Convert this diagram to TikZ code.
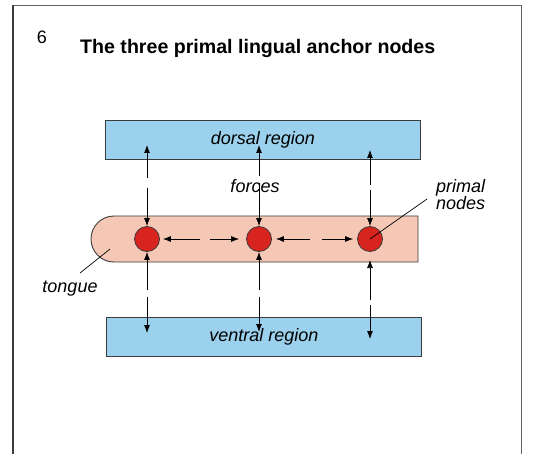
\documentclass[tikz,border=0pt]{standalone}
\usepackage{fontspec}
\setmainfont{Liberation Sans}
\usetikzlibrary{arrows.meta}
\definecolor{regionblue}{RGB}{155,209,236}
\definecolor{tonguefill}{RGB}{245,200,182}
\definecolor{nodered}{RGB}{216,36,30}
\definecolor{edgegray}{RGB}{60,60,60}
\begin{document}
\begin{tikzpicture}[x=1pt,y=-1pt,
  region/.style={draw=edgegray,line width=0.9pt,fill=regionblue,minimum width=315pt,minimum height=39pt,inner sep=0pt,font=\fontsize{18}{20}\selectfont\itshape},
  primal/.style={circle,draw=edgegray,line width=0.8pt,fill=nodered,minimum size=25pt,inner sep=0pt},
  lbl/.style={font=\fontsize{18}{17}\selectfont\itshape,inner sep=0pt},
  arr/.style={-{Latex[length=8pt,width=6pt]},line width=0.75pt,black},
  leader/.style={line width=0.7pt,black}]
\useasboundingbox (0,0) rectangle (540,454);
% frame
\draw[edgegray!80,line width=0.8pt] (521,454) -- (521,5) -- (13,5);
\draw[edgegray,line width=1.6pt] (13,4.6) -- (13,454);
% title
\node[font=\fontsize{18}{20}\selectfont,inner sep=0pt] (num) at (42,37) {6};
\node[font=\fontsize{19.6}{22}\selectfont\bfseries,anchor=west,inner sep=0pt] (title) at (80,48) {The three primal lingual anchor nodes};
% regions
\node[region] (dorsal) at (263,139.5) {dorsal region};
\node[region] (ventral) at (264,337) {ventral region};
% tongue
\draw[draw=edgegray,line width=0.9pt,fill=tonguefill] (418,216) -- (114,216) arc[start angle=270,end angle=90,radius=23] -- (418,262) -- cycle;
\coordinate (tonguept) at (110,249);
% primal nodes
\node[primal] (n1) at (147,239) {};
\node[primal] (n2) at (259,239) {};
\node[primal] (n3) at (370,239) {};
% labels
\node[lbl] (forces) at (255,186) {forces};
\node[lbl,anchor=west,align=left] (plabel) at (436,195) {primal\\nodes};
\node[lbl] (tongue) at (70,289) {tongue};
\coordinate (pl) at (427,199);
\coordinate (tl) at (80,273);
\draw[leader] (pl) -- (n3.center);
\draw[leader] (tl) -- (tonguept);
% vertical force arrows up
\coordinate (d1) at (147,145);
\coordinate (d2) at (259,145);
\coordinate (d3) at (370,150);
\coordinate (v1) at (147,333);
\coordinate (v2) at (259,332);
\coordinate (v3) at (370,339);
\coordinate (t3) at (370,260);
\coordinate (g1a) at (147,178); \coordinate (g1b) at (147,188);
\coordinate (g2a) at (259,176); \coordinate (g2b) at (259,183);
\coordinate (g3a) at (370,185); \coordinate (g3b) at (370,190);
\draw[arr] (g1a) -- (d1);
\draw[arr] (g1b) -- (n1.north);
\draw[arr] (g2a) -- (d2);
\draw[arr] (g2b) -- (n2.north);
\draw[arr] (g3a) -- (d3);
\draw[arr] (g3b) -- (n3.north);
% vertical force arrows down
\coordinate (h1a) at (147,290); \coordinate (h1b) at (147,297);
\coordinate (h2a) at (259,290); \coordinate (h2b) at (259,297);
\coordinate (h3a) at (370,300); \coordinate (h3b) at (370,305);
\draw[arr] (h1a) -- (n1.south);
\draw[arr] (h1b) -- (v1);
\draw[arr] (h2a) -- (n2.south);
\draw[arr] (h2b) -- (v2);
\draw[arr] (h3a) -- (t3);
\draw[arr] (h3b) -- (v3);
% horizontal arrows
\coordinate (m1a) at (200,239); \coordinate (m1b) at (210,239);
\coordinate (m2a) at (310,239); \coordinate (m2b) at (322,239);
\draw[arr] (m1a) -- ([xshift=3pt]n1.east);
\draw[arr] (m1b) -- ([xshift=-7pt]n2.west);
\draw[arr] (m2a) -- ([xshift=4pt]n2.east);
\draw[arr] (m2b) -- ([xshift=-4pt]n3.west);
\end{tikzpicture}
\end{document}
